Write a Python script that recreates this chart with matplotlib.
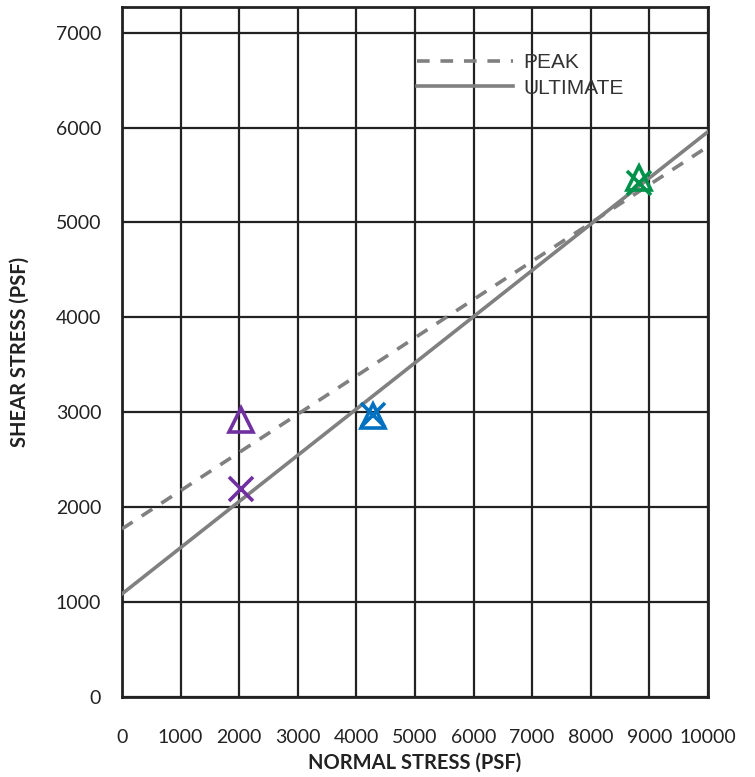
import matplotlib.pyplot as plt

# test results
tri_x = [2030, 4280, 8820]
tri_y = [2920, 2965, 5465]
x_x = [2030, 4280, 8820]
x_y = [2195, 2975, 5420]
colors = ['#7030A0', '#0070C0', '#00914A']

# strength envelopes
line_x = [0, 10000]
peak_y = [1771, 5800]
ult_y = [1086, 5956]

xticks = list(range(0, 10001, 1000))
yticks = list(range(0, 7001, 1000))

fig = plt.figure(figsize=(7.55, 7.77), dpi=100)
ax = fig.add_axes([0.1616, 0.103, 0.7761, 0.888])

ax.plot(line_x, peak_y, color='#808080', lw=2.6, dashes=(3.5, 3), label='PEAK', zorder=3)
ax.plot(line_x, ult_y, color='#808080', lw=2.6, label='ULTIMATE', zorder=3)

for i in range(len(tri_x)):
    ax.plot(tri_x[i], tri_y[i], marker='^', ms=17, mfc='none', mec=colors[i], mew=2.6, ls='none', zorder=4)
    ax.plot(x_x[i], x_y[i], marker='x', ms=17, mec=colors[i], mew=2.6, ls='none', zorder=4)

ax.set_xlim(0, 10000)
ax.set_ylim(0, 7270)
ax.set_xticks(xticks)
ax.set_yticks(yticks)
ax.grid(True, color='#222222', lw=1.6)
ax.set_axisbelow(True)
for s in ax.spines.values():
    s.set_linewidth(2)
    s.set_color('#222222')

ax.tick_params(length=0, labelsize=14, labelcolor='#222222')
ax.tick_params(axis='x', pad=23)
ax.tick_params(axis='y', pad=15)
for lab in ax.get_xticklabels() + ax.get_yticklabels():
    lab.set_family('Lato')

ax.set_xlabel('NORMAL STRESS (PSF)', family='Lato', fontweight='bold', fontsize=14.5, color='#222222', labelpad=5)
ax.set_ylabel('SHEAR STRESS (PSF)', family='Lato', fontweight='bold', fontsize=14.5, color='#222222', labelpad=19)

leg = ax.legend(loc='upper left', bbox_to_anchor=(0.471, 0.96), frameon=False,
                prop={'family': 'Liberation Sans', 'size': 15}, handlelength=4.6,
                handletextpad=0.5, labelspacing=0.3)
for t in leg.get_texts():
    t.set_color('#333333')

fig.savefig('out.png', dpi=100)
